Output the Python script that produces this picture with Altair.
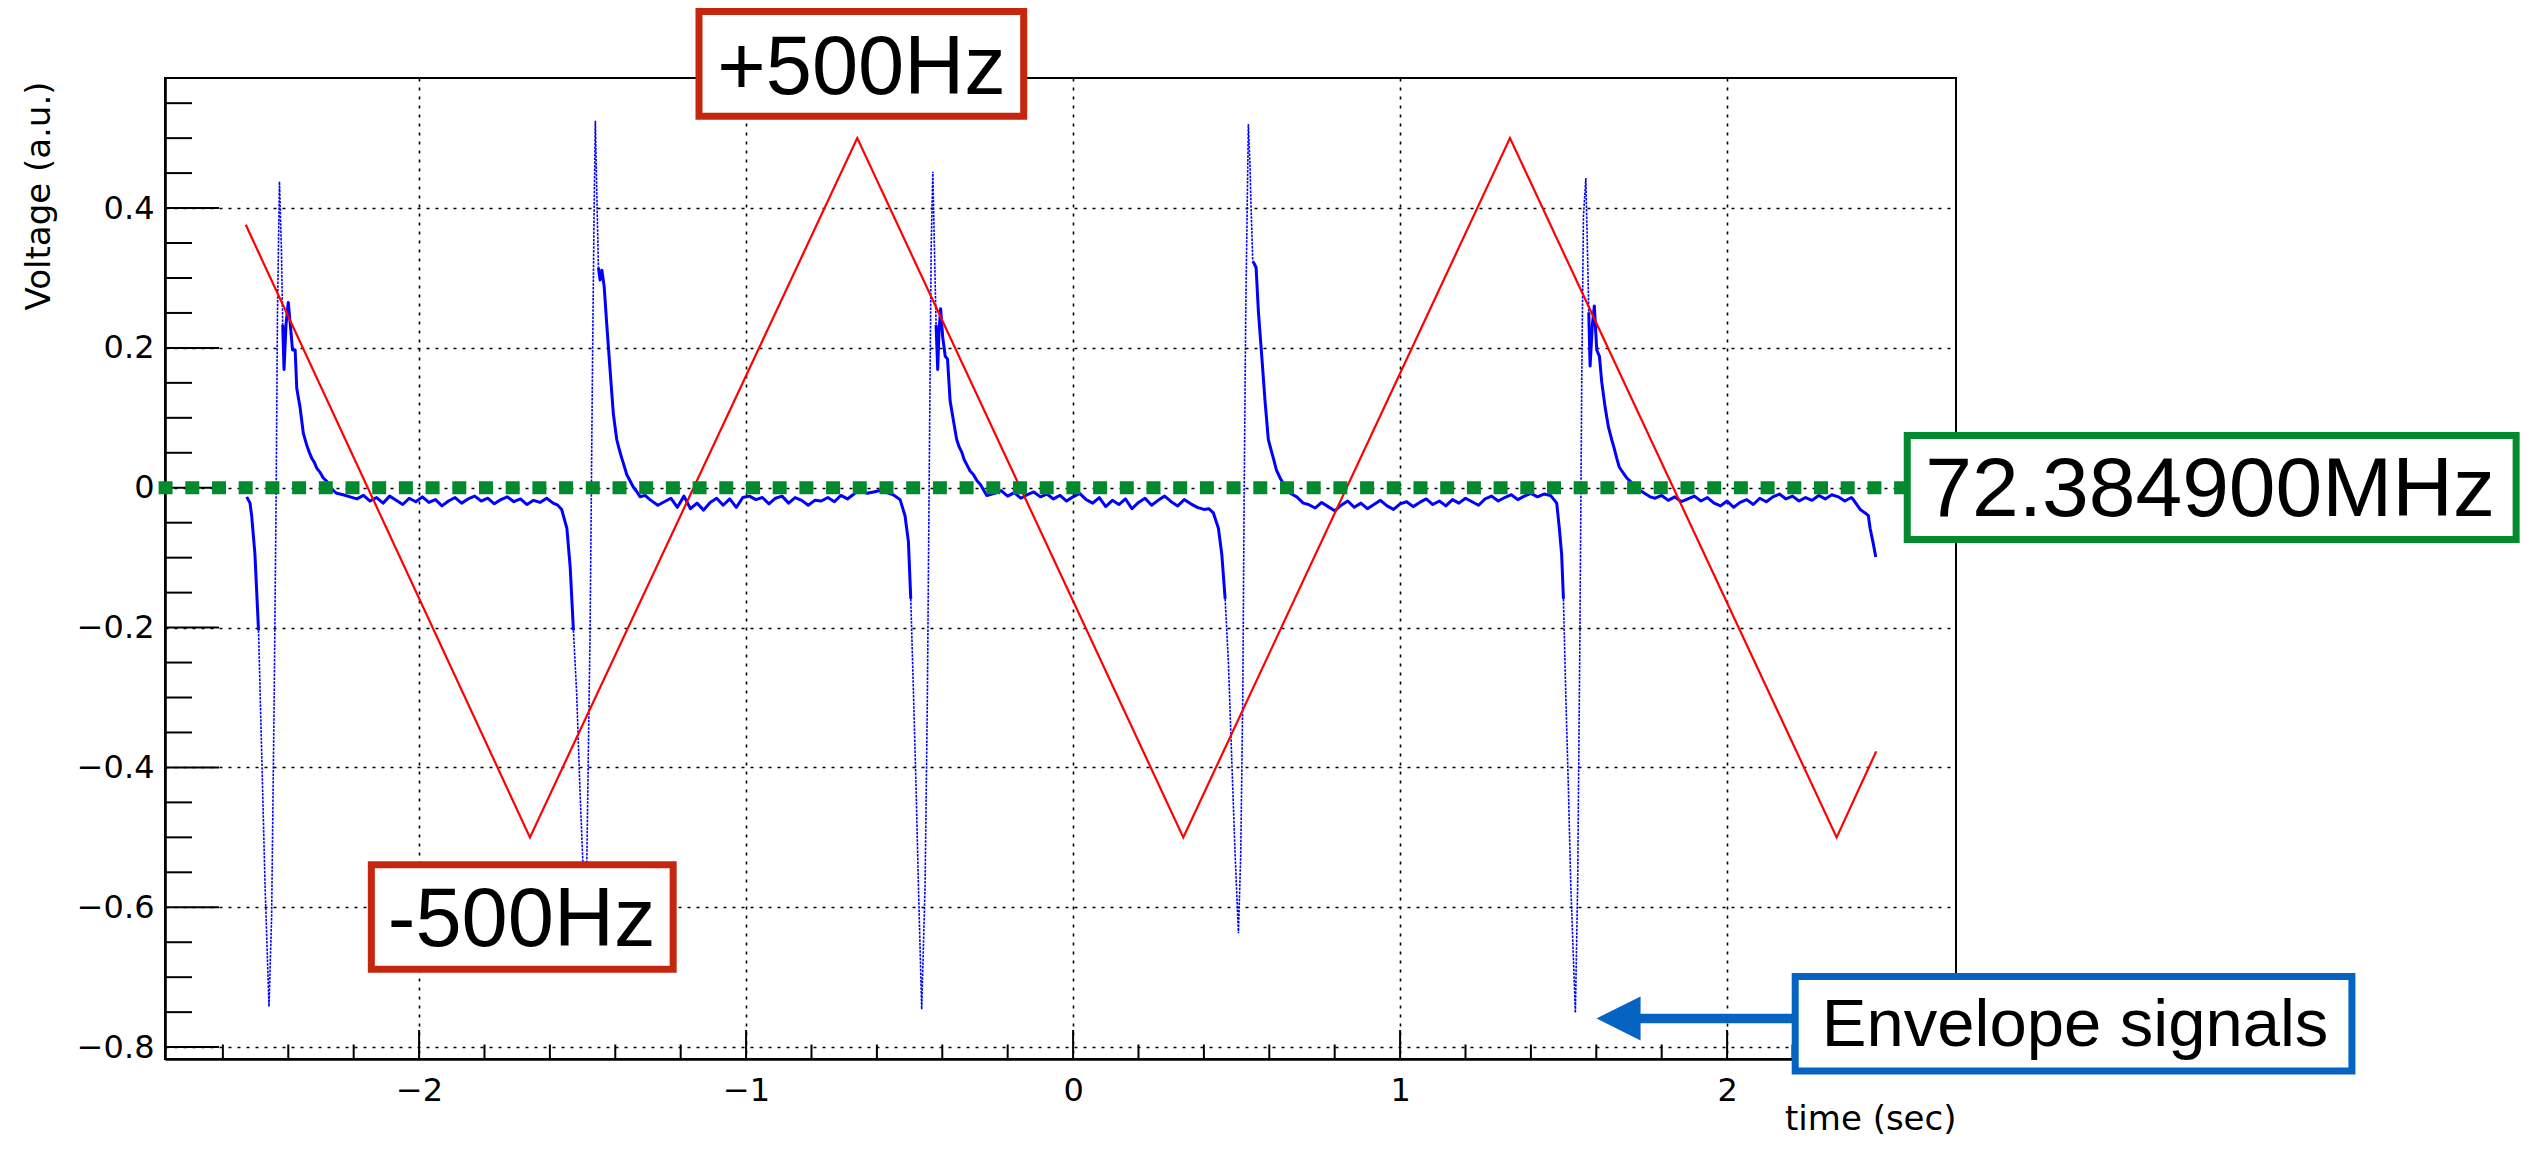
import altair as alt
import pandas as pd

# ---------------- axes ----------------
x_domain = [-2.777, 2.700]
y_domain = [-0.817, 0.586]
x_major = [-2, -1, 0, 1, 2]
x_minor = [-2.6, -2.4, -2.2, -1.8, -1.6, -1.4, -1.2, -0.8, -0.6, -0.4, -0.2,
           0.2, 0.4, 0.6, 0.8, 1.2, 1.4, 1.6, 1.8, 2.2, 2.4, 2.6]
y_major = [-0.8, -0.6, -0.4, -0.2, 0, 0.2, 0.4]
y_minor = [-0.75, -0.7, -0.65, -0.55, -0.5, -0.45, -0.35, -0.3, -0.25, -0.15,
           -0.1, -0.05, 0.05, 0.1, 0.15, 0.25, 0.3, 0.35, 0.45, 0.5, 0.55]

# ---------------- red sweep (triangle) ----------------
red_t = [-2.530, -1.661, -0.660, 0.337, 1.336, 2.335, 2.456]
red_v = [0.376, -0.5, 0.5, -0.5, 0.5, -0.5, -0.377]

# ---------------- blue envelope signal ----------------
p1_drop_t = [-2.527, -2.517, -2.512, -2.502, -2.491]
p1_drop_v = [-0.013, -0.022, -0.040, -0.095, -0.204]
p1_fast_t = [-2.491, -2.481, -2.471, -2.459, -2.451, -2.443, -2.437, -2.433, -2.427, -2.421, -2.417]
p1_fast_v = [-0.204, -0.386, -0.569, -0.742, -0.614, -0.295, -0.004, 0.251, 0.438, 0.342, 0.233]
p1_decay_t = [-2.417, -2.413, -2.407, -2.400, -2.392, -2.387, -2.379, -2.374, -2.364, -2.354, -2.343, -2.336,
              -2.328, -2.320, -2.313, -2.303, -2.293, -2.282, -2.272, -2.262, -2.252, -2.232, -2.211]
p1_decay_v = [0.233, 0.169, 0.233, 0.265, 0.224, 0.197, 0.197, 0.142, 0.115, 0.078, 0.060, 0.051,
              0.042, 0.036, 0.028, 0.022, 0.014, 0.009, 0.001, -0.004, -0.008, -0.010, -0.013]
b1_t0 = -2.19
b1_v = [-0.016, -0.011, -0.019, -0.014, -0.022, -0.012, -0.018, -0.024, -0.015, -0.020, -0.013,
        -0.021, -0.017, -0.026, -0.019, -0.014, -0.022, -0.016, -0.012, -0.019, -0.015, -0.023,
        -0.017, -0.013, -0.020, -0.016, -0.024, -0.018, -0.021, -0.015, -0.022]

p2_drop_t = [-1.576, -1.564, -1.548, -1.538, -1.528]
p2_drop_v = [-0.025, -0.031, -0.058, -0.113, -0.204]
p2_fast_t = [-1.528, -1.518, -1.508, -1.4995, -1.491, -1.487, -1.477, -1.470, -1.465, -1.461, -1.457, -1.4516]
p2_fast_v = [-0.204, -0.295, -0.432, -0.532, -0.640, -0.532, -0.204, 0.160, 0.388, 0.525, 0.433, 0.315]
p2_decay_t = [-1.4516, -1.4465, -1.441, -1.434, -1.426, -1.416, -1.406, -1.3955, -1.388, -1.380, -1.372,
              -1.365, -1.355, -1.345, -1.335, -1.324, -1.309, -1.294]
p2_decay_v = [0.315, 0.297, 0.311, 0.288, 0.233, 0.169, 0.106, 0.069, 0.055, 0.042, 0.030,
              0.019, 0.010, 0.001, -0.005, -0.013, -0.011, -0.017]
b2_t0 = -1.27
b2_v = [-0.025, -0.020, -0.015, -0.028, -0.012, -0.030, -0.022, -0.032, -0.021, -0.015, -0.025,
        -0.016, -0.028, -0.014, -0.012, -0.017, -0.014, -0.023, -0.015, -0.012, -0.022, -0.014,
        -0.018, -0.025, -0.018, -0.019, -0.014, -0.020, -0.011, -0.016, -0.009, -0.003, -0.008,
        -0.006, -0.004, -0.007, -0.010]

p3_drop_t = [-0.529, -0.514, -0.5036, -0.4964]
p3_drop_v = [-0.017, -0.040, -0.077, -0.159]
p3_fast_t = [-0.4964, -0.488, -0.480, -0.473, -0.463, -0.4526, -0.4455, -0.439, -0.434, -0.429, -0.424, -0.419]
p3_fast_v = [-0.159, -0.295, -0.432, -0.569, -0.746, -0.569, -0.295, 0.069, 0.342, 0.452, 0.342, 0.233]
p3_decay_t = [-0.419, -0.414, -0.410, -0.405, -0.3986, -0.391, -0.384, -0.376, -0.366, -0.356, -0.348,
              -0.3405, -0.333, -0.325, -0.315, -0.305, -0.294, -0.284, -0.264]
p3_decay_v = [0.233, 0.169, 0.224, 0.256, 0.215, 0.188, 0.184, 0.124, 0.096, 0.069, 0.058,
              0.051, 0.040, 0.033, 0.024, 0.019, 0.010, 0.005, -0.011]
b3_t0 = -0.24
b3_v = [-0.008, -0.004, -0.012, -0.007, -0.015, -0.010, -0.006, -0.013, -0.009, -0.016, -0.011,
        -0.019, -0.013, -0.008, -0.017, -0.022, -0.014, -0.027, -0.018, -0.024, -0.016, -0.030,
        -0.021, -0.015, -0.025, -0.018, -0.012, -0.020, -0.026, -0.017, -0.023, -0.028, -0.031]

p4_drop_t = [0.415, 0.429, 0.4444, 0.4547, 0.465]
p4_drop_v = [-0.030, -0.036, -0.058, -0.095, -0.159]
p4_fast_t = [0.465, 0.475, 0.485, 0.4954, 0.5056, 0.5127, 0.519, 0.523, 0.528, 0.536, 0.541, 0.544, 0.5494]
p4_fast_v = [-0.159, -0.250, -0.386, -0.523, -0.637, -0.523, -0.295, -0.017, 0.251, 0.520, 0.461, 0.406, 0.324]
p4_decay_t = [0.5494, 0.5545, 0.5596, 0.5668, 0.577, 0.587, 0.597, 0.605, 0.6126, 0.622, 0.633,
              0.643, 0.6534, 0.668, 0.684, 0.704]
p4_decay_v = [0.324, 0.320, 0.315, 0.251, 0.188, 0.124, 0.069, 0.055, 0.042, 0.025, 0.014,
              0.006, -0.004, -0.009, -0.013, -0.022]
b4_t0 = 0.72
b4_v = [-0.024, -0.029, -0.021, -0.027, -0.033, -0.025, -0.019, -0.028, -0.022, -0.030, -0.024,
        -0.018, -0.026, -0.031, -0.023, -0.020, -0.027, -0.021, -0.016, -0.024, -0.019, -0.026,
        -0.017, -0.022, -0.015, -0.020, -0.025, -0.016, -0.012, -0.019, -0.014, -0.010, -0.017,
        -0.012, -0.008, -0.013, -0.009, -0.011]

p5_drop_t = [1.479, 1.487, 1.494, 1.4995]
p5_drop_v = [-0.022, -0.058, -0.095, -0.159]
p5_fast_t = [1.4995, 1.5066, 1.5148, 1.522, 1.536, 1.543, 1.550, 1.5556, 1.5607, 1.568, 1.5729, 1.577]
p5_fast_v = [-0.159, -0.295, -0.432, -0.569, -0.751, -0.569, -0.204, 0.160, 0.388, 0.443, 0.342, 0.251]
p5_decay_t = [1.577, 1.581, 1.588, 1.594, 1.6014, 1.6096, 1.6167, 1.627, 1.637, 1.647, 1.655,
              1.6626, 1.670, 1.678, 1.693, 1.7136, 1.734, 1.7645]
p5_decay_v = [0.251, 0.174, 0.233, 0.260, 0.197, 0.188, 0.151, 0.115, 0.087, 0.069, 0.056,
              0.042, 0.030, 0.024, 0.014, 0.005, -0.004, -0.013]
b5_t0 = 1.78
b5_v = [-0.015, -0.011, -0.018, -0.013, -0.020, -0.016, -0.012, -0.019, -0.014, -0.022, -0.026,
        -0.019, -0.028, -0.021, -0.017, -0.024, -0.015, -0.020, -0.013, -0.009, -0.016, -0.012,
        -0.019, -0.014, -0.018, -0.011, -0.016, -0.010, -0.013, -0.019, -0.014]
end_t = [2.386, 2.407, 2.422, 2.432, 2.4373, 2.4475, 2.4546]
end_v = [-0.017, -0.031, -0.036, -0.040, -0.058, -0.081, -0.099]

# ---------------- annotations ----------------
box_x1 = [-1.144, -2.146, 2.5509, 2.2083]
box_x2 = [-0.151, -1.223, 4.4129, 3.9107]
box_y1 = [0.6811, -0.5393, 0.0747, -0.6991]
box_y2 = [0.5313, -0.6886, -0.0741, -0.8340]
box_col = ["#c5260d", "#c5260d", "#038a2f", "#0563c1"]
lab_text = ["+500Hz", "-500Hz", "72.384900MHz", "Envelope signals"]
lab_t = [-0.647, -1.6865, 3.477, 3.0642]
lab_v = [0.5635, -0.6555, -0.0405, -0.7985]
lab_size = [83, 83, 84, 67]
green_t = [-2.7966, 2.541]
arrow_t = [1.72, 2.25]
arrow_v = -0.7589
arrow_head_t = 1.668

BLUE = "#0000ff"
RED = "#ff0000"
GREEN = "#038a2f"
ABLUE = "#0563c1"

W, H = 1791, 981


def grid_t(t0, vals):
    return [round(t0 + 0.02 * k, 4) for k in range(len(vals))]


pieces = [
    ("thick", p1_drop_t, p1_drop_v),
    ("thin", p1_fast_t, p1_fast_v),
    ("thick", p1_decay_t + grid_t(b1_t0, b1_v) + p2_drop_t, p1_decay_v + b1_v + p2_drop_v),
    ("thin", p2_fast_t, p2_fast_v),
    ("thick", p2_decay_t + grid_t(b2_t0, b2_v) + p3_drop_t, p2_decay_v + b2_v + p3_drop_v),
    ("thin", p3_fast_t, p3_fast_v),
    ("thick", p3_decay_t + grid_t(b3_t0, b3_v) + p4_drop_t, p3_decay_v + b3_v + p4_drop_v),
    ("thin", p4_fast_t, p4_fast_v),
    ("thick", p4_decay_t + grid_t(b4_t0, b4_v) + p5_drop_t, p4_decay_v + b4_v + p5_drop_v),
    ("thin", p5_fast_t, p5_fast_v),
    ("thick", p5_decay_t + grid_t(b5_t0, b5_v) + end_t, p5_decay_v + b5_v + end_v),
]
rows = []
for s, (style, ts, vs) in enumerate(pieces):
    for i, (t, v) in enumerate(zip(ts, vs)):
        rows.append({"t": t, "v": v, "seg": s, "i": i, "style": style})
blue_df = pd.DataFrame(rows)
red_df = pd.DataFrame({"t": red_t, "v": red_v, "i": list(range(len(red_t)))})

xs = alt.Scale(domain=x_domain, nice=False, zero=False)
ys = alt.Scale(domain=y_domain, nice=False, zero=False)

x_axis = alt.Axis(
    values=x_major, format="~g", grid=True, gridDash=[3, 6], gridColor="black",
    gridWidth=1.6, gridOpacity=1, ticks=False, domain=True, domainColor="black",
    domainWidth=2.6, labelFont="DejaVu Sans", labelFontSize=32, labelColor="black",
    labelPadding=16, title="time (sec)", titleFont="DejaVu Sans", titleFontSize=34,
    titleFontWeight="normal", titleColor="black", titleX=W, titleY=70,
    titleAlign="right", titleBaseline="alphabetic")
y_axis = alt.Axis(
    values=y_major, format="~g", grid=True, gridDash=[3, 6], gridColor="black",
    gridWidth=1.6, gridOpacity=1, ticks=False, domain=True, domainColor="black",
    domainWidth=2.6, labelFont="DejaVu Sans", labelFontSize=32, labelColor="black",
    labelPadding=11, title="Voltage (a.u.)", titleFont="DejaVu Sans", titleFontSize=34,
    titleFontWeight="normal", titleColor="black", titleAngle=270, titleX=-116, titleY=3,
    titleAlign="right", titleBaseline="alphabetic")


def X(field):
    return alt.X(field, scale=xs, axis=x_axis)


def Y(field):
    return alt.Y(field, scale=ys, axis=y_axis)


blue_thin = alt.Chart(blue_df).transform_filter("datum.style == 'thin'").mark_line(
    color=BLUE, strokeWidth=1.6, strokeDash=[2.5, 1.2]).encode(
    x=X("t:Q"), y=Y("v:Q"), detail="seg:N", order=alt.Order("i:Q"))

blue_thick = alt.Chart(blue_df).transform_filter("datum.style == 'thick'").mark_line(
    color=BLUE, strokeWidth=3, strokeJoin="round").encode(
    x=X("t:Q"), y=Y("v:Q"), detail="seg:N", order=alt.Order("i:Q"))

red_line = alt.Chart(red_df).mark_line(color=RED, strokeWidth=2.2).encode(
    x=X("t:Q"), y=Y("v:Q"), order=alt.Order("i:Q"))

# inward ticks
xmaj_df = pd.DataFrame({"t": x_major})
xmin_df = pd.DataFrame({"t": x_minor})
ymaj_df = pd.DataFrame({"v": y_major})
ymin_df = pd.DataFrame({"v": y_minor})
tick_x_major = alt.Chart(xmaj_df).mark_rule(color="black", strokeWidth=2).encode(
    x=X("t:Q"), y=alt.value(H), y2=alt.value(H - 29))
tick_x_minor = alt.Chart(xmin_df).mark_rule(color="black", strokeWidth=2).encode(
    x=X("t:Q"), y=alt.value(H), y2=alt.value(H - 14.5))
tick_y_major = alt.Chart(ymaj_df).mark_rule(color="black", strokeWidth=2).encode(
    y=Y("v:Q"), x=alt.value(0), x2=alt.value(54))
tick_y_minor = alt.Chart(ymin_df).mark_rule(color="black", strokeWidth=2).encode(
    y=Y("v:Q"), x=alt.value(0), x2=alt.value(27))

green_df = pd.DataFrame({"t": [green_t[0]], "t1": [green_t[1]], "v": [0.0]})
green_line = alt.Chart(green_df).mark_rule(
    color=GREEN, strokeWidth=13, strokeDash=[14, 12.7], strokeCap="butt").encode(
    x=X("t:Q"), x2="t1:Q", y=Y("v:Q"))

arrow_df = pd.DataFrame({"t": [arrow_t[0]], "t1": [arrow_t[1]], "v": [arrow_v]})
arrow_shaft = alt.Chart(arrow_df).mark_rule(color=ABLUE, strokeWidth=9.5, strokeCap="butt").encode(
    x=X("t:Q"), x2="t1:Q", y=Y("v:Q"))
head_df = pd.DataFrame({"t": [arrow_head_t], "v": [arrow_v]})
arrow_head = alt.Chart(head_df).mark_point(
    shape="M -1 0 L 1 -1 L 1 1 Z", size=1936, filled=True, color=ABLUE, opacity=1,
    strokeWidth=0).encode(x=X("t:Q"), y=Y("v:Q"))

box_df = pd.DataFrame({"t": box_x1, "x2": box_x2, "v": box_y1, "y2": box_y2, "col": box_col})
boxes = alt.Chart(box_df).mark_rect(fill="white", strokeWidth=7, opacity=1).encode(
    x=X("t:Q"), x2="x2:Q", y=Y("v:Q"), y2="y2:Q",
    stroke=alt.Stroke("col:N", scale=None))

lab_df = pd.DataFrame({"t": lab_t, "v": lab_v, "label": lab_text, "fs": lab_size})
labels = alt.Chart(lab_df).mark_text(
    align="center", baseline="alphabetic", font="Liberation Sans", color="black").encode(
    x=X("t:Q"), y=Y("v:Q"), text="label:N", size=alt.Size("fs:Q", scale=None))

chart = alt.layer(
    blue_thin, blue_thick, red_line,
    tick_x_major, tick_x_minor, tick_y_major, tick_y_minor,
    green_line, arrow_shaft, arrow_head, boxes, labels
).properties(
    width=W, height=H,
    padding={"left": 157, "top": 70, "right": 570, "bottom": 81},
    autosize=alt.AutoSizeParams(type="none"),
    background="white",
).configure_view(stroke="black", strokeWidth=2)

chart.save("out.html", embed_options={"renderer": "svg", "actions": False})
